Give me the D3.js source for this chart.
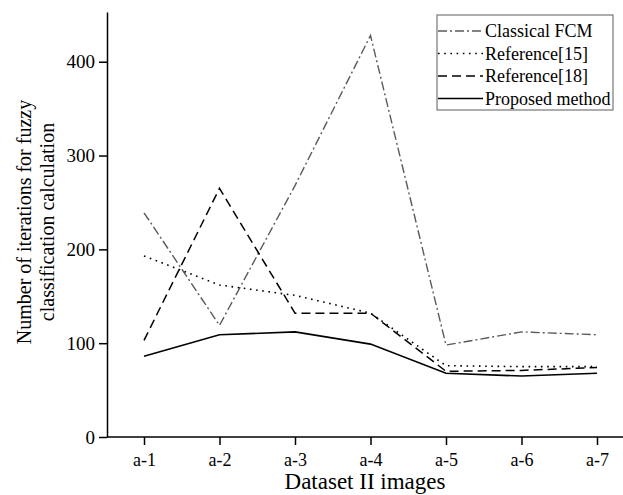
<!DOCTYPE html>
<html><head><meta charset="utf-8">
<script src="https://cdn.jsdelivr.net/npm/d3@7"></script>
<style>
body{margin:0;background:#fff;}
svg{display:block;}
svg text{font-family:"Liberation Serif","Times New Roman",serif !important;}
</style></head><body>
<svg id="chart" width="623" height="495"></svg>
<script>
const categories = ["a-1","a-2","a-3","a-4","a-5","a-6","a-7"];
const classicalFCM = [239, 119, 268, 428, 98, 112, 109];
const reference15 = [193, 162, 151, 132, 76, 75, 75];
const reference18 = [103, 265, 132, 132, 70, 71, 74];
const proposed = [86, 109, 112, 99, 68, 65, 68];
const yTicks = [0, 100, 200, 300, 400];
const seriesNames = ["Classical FCM", "Reference[15]", "Reference[18]", "Proposed method"];

(function () {
const series = [
  {name: seriesNames[0], values: classicalFCM, color: "#5a5a5a", dash: "9,3,2,3", width: 1.4},
  {name: seriesNames[1], values: reference15, color: "#000", dash: "1.6,4.6", width: 1.6},
  {name: seriesNames[2], values: reference18, color: "#000", dash: "9,5", width: 1.5},
  {name: seriesNames[3], values: proposed, color: "#000", dash: null, width: 1.6}
];

const svg = d3.select("#chart");
const mLeft = 107, mRight = 623, mTop = 12, mBottom = 437;
const x = d3.scalePoint().domain(categories).range([144, 597]);
const y = d3.scaleLinear().domain([0, 453]).range([mBottom, mTop]);

// axes
const xAxis = svg.append("g").attr("transform", `translate(0,${mBottom})`)
  .call(d3.axisBottom(x).tickSize(8).tickPadding(8).tickSizeOuter(0));
xAxis.select(".domain").attr("d", `M${mLeft},0H${mRight}`);
const yAxis = svg.append("g").attr("transform", `translate(${mLeft},0)`)
  .call(d3.axisLeft(y).tickValues(yTicks).tickSize(8).tickPadding(4).tickSizeOuter(0));
[xAxis, yAxis].forEach(a => {
  a.attr("font-family", null);
  a.select(".domain").attr("stroke", "#000").attr("stroke-width", 1.5);
  a.selectAll(".tick line").attr("stroke", "#000").attr("stroke-width", 1.5);
  a.selectAll(".tick text").attr("fill", "#000");
});
xAxis.selectAll(".tick text").attr("font-size", 18);
yAxis.selectAll(".tick text").attr("font-size", 19);

// axis titles
svg.append("text").attr("x", 365).attr("y", 489).attr("text-anchor", "middle")
  .attr("font-size", 23).text("Dataset II images");
const yt = svg.append("text").attr("transform", "translate(31,222) rotate(-90)")
  .attr("text-anchor", "middle").attr("font-size", 20);
yt.append("tspan").attr("x", 0).attr("dy", 0).text("Number of iterations for fuzzy");
yt.append("tspan").attr("x", 0).attr("dy", 23).text("classification calculation");

// lines
const line = d3.line().x((d, i) => x(categories[i])).y(d => y(d));
series.forEach(s => {
  svg.append("path").datum(s.values).attr("d", line)
    .attr("fill", "none").attr("stroke", s.color).attr("stroke-width", s.width)
    .attr("stroke-dasharray", s.dash).attr("stroke-linejoin", "miter");
});

// legend
const lg = svg.append("g");
lg.append("rect").attr("x", 437).attr("y", 15).attr("width", 176).attr("height", 95)
  .attr("fill", "#fff").attr("stroke", "#777").attr("stroke-width", 1.2);
series.forEach((s, i) => {
  const yy = 31 + i * 22.5;
  lg.append("line").attr("x1", 438).attr("x2", 483).attr("y1", yy).attr("y2", yy)
    .attr("stroke", s.color).attr("stroke-width", s.width).attr("stroke-dasharray", s.dash);
  lg.append("text").attr("x", 485).attr("y", yy).attr("dy", "0.35em")
    .attr("font-size", 18).text(s.name);
});
})();
</script>
</body></html>
